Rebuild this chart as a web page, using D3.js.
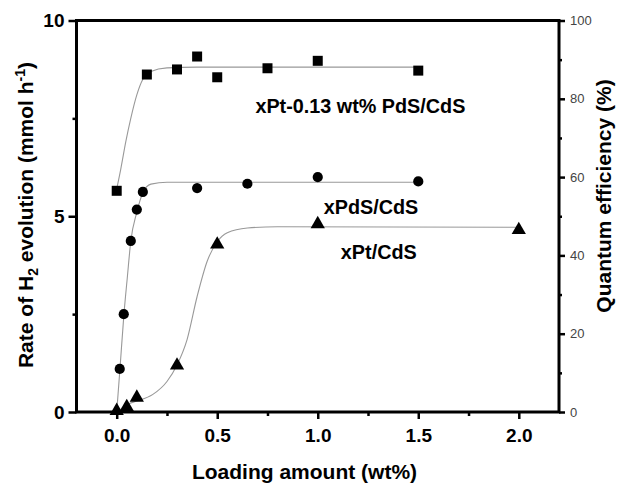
<!DOCTYPE html>
<html>
<head>
<meta charset="utf-8">
<script src="https://cdn.jsdelivr.net/npm/d3@7"></script>
<style>
  body { margin: 0; background: #fff; }
  svg { font-family: "Liberation Sans", Arial, sans-serif; }
</style>
</head>
<body>
<svg width="617" height="483"></svg>
<script>
// measured points (rate of H2 evolution, mmol/h)
var squareX = [0, 0.15, 0.3, 0.4, 0.5, 0.75, 1.0, 1.5];
var squareY = [5.65, 8.62, 8.75, 9.08, 8.55, 8.78, 8.97, 8.72];
var circleX = [0.015, 0.035, 0.07, 0.1, 0.13, 0.4, 0.65, 1.0, 1.5];
var circleY = [1.1, 2.5, 4.37, 5.17, 5.62, 5.72, 5.83, 6.0, 5.89];
var triangleX = [0, 0.05, 0.1, 0.3, 0.5, 1.0, 2.0];
var triangleY = [0.03, 0.13, 0.37, 1.19, 4.28, 4.8, 4.65];

// fitted curves
var squareFitX = [0, 0.02, 0.045, 0.07, 0.1, 0.13, 0.17, 0.25, 0.4, 1.5];
var squareFitY = [5.7, 6.2, 6.9, 7.5, 8.1, 8.5, 8.7, 8.79, 8.81, 8.81];
var circleFitX = [0, 0.016, 0.036, 0.053, 0.07, 0.1, 0.13, 0.17, 0.25, 1.5];
var circleFitY = [0, 1.09, 2.5, 3.45, 4.36, 5.1, 5.6, 5.82, 5.87, 5.87];
var triangleFitX = [0.05, 0.1, 0.18, 0.25, 0.3, 0.35, 0.4, 0.45, 0.5, 0.55, 0.65, 0.8, 2.0];
var triangleFitY = [0.2, 0.28, 0.45, 0.78, 1.2, 1.85, 2.95, 3.85, 4.35, 4.58, 4.7, 4.73, 4.72];

var seriesNames = ["xPt-0.13 wt% PdS/CdS", "xPdS/CdS", "xPt/CdS"];

// ticks
var xTicks = [0, 0.5, 1.0, 1.5, 2.0];
var xMinor = [0.25, 0.75, 1.25, 1.75];
var yTicks = [0, 5, 10];
var yMinor = [2.5, 7.5];
var qeTicks = [0, 20, 40, 60, 80, 100];
var qeMinor = [10, 30, 50, 70, 90];

var svg = d3.select("svg");
// note: "top" is taken by window.top, so plot edges get a prefix
var plotL = 76.5, plotR = 559, plotT = 20.5, plotB = 412;

var x = d3.scaleLinear().domain([-0.2, 2.2]).range([plotL, plotR]);
var y = d3.scaleLinear().domain([0, 10]).range([plotB, plotT]);
var yQE = d3.scaleLinear().domain([0, 100]).range([plotB, plotT]);

function styleAxis(g, size, weight, color) {
  g.select(".domain").remove();
  g.selectAll(".tick line").attr("stroke", "#000").attr("stroke-width", 2.5);
  g.selectAll(".tick text")
    .attr("fill", color)
    .style("font-size", size + "px")
    .style("font-weight", weight)
    .style("font-family", "'Liberation Sans', Arial, sans-serif");
}

// bottom axis
svg.append("g")
  .attr("transform", "translate(0," + plotB + ")")
  .call(d3.axisBottom(x).tickValues(xTicks).tickSize(7).tickPadding(10).tickFormat(d3.format(".1f")))
  .call(styleAxis, 19, "bold", "#000");
svg.append("g")
  .attr("transform", "translate(0," + plotB + ")")
  .call(d3.axisBottom(x).tickValues(xMinor).tickSize(4).tickFormat(""))
  .call(styleAxis, 19, "bold", "#000");

// left axis
svg.append("g")
  .attr("transform", "translate(" + plotL + ",0)")
  .call(d3.axisLeft(y).tickValues(yTicks).tickSize(8).tickPadding(4).tickFormat(d3.format("d")))
  .call(styleAxis, 19, "bold", "#000");
svg.append("g")
  .attr("transform", "translate(" + plotL + ",0)")
  .call(d3.axisLeft(y).tickValues(yMinor).tickSize(4).tickFormat(""))
  .call(styleAxis, 19, "bold", "#000");

// right axis (quantum efficiency)
svg.append("g")
  .attr("transform", "translate(" + plotR + ",0)")
  .call(d3.axisRight(yQE).tickValues(qeTicks).tickSize(6).tickPadding(5).tickFormat(d3.format("d")))
  .call(styleAxis, 13, "normal", "#444");
svg.append("g")
  .attr("transform", "translate(" + plotR + ",0)")
  .call(d3.axisRight(yQE).tickValues(qeMinor).tickSize(3).tickFormat(""))
  .call(styleAxis, 13, "normal", "#444");

// frame
svg.append("rect")
  .attr("x", plotL).attr("y", plotT)
  .attr("width", plotR - plotL).attr("height", plotB - plotT)
  .attr("fill", "none").attr("stroke", "#000").attr("stroke-width", 3);

// fitted lines
var line = d3.line()
  .x(function(d) { return x(d[0]); })
  .y(function(d) { return y(d[1]); })
  .curve(d3.curveMonotoneX);

function zip(a, b) { return a.map(function(v, i) { return [v, b[i]]; }); }

[[squareFitX, squareFitY], [circleFitX, circleFitY], [triangleFitX, triangleFitY]].forEach(function(s) {
  svg.append("path")
    .datum(zip(s[0], s[1]))
    .attr("fill", "none")
    .attr("stroke", "#999")
    .attr("stroke-width", 1.1)
    .attr("d", line);
});

// markers
function drawPoints(xs, ys, type, size) {
  svg.append("g").selectAll("path")
    .data(zip(xs, ys))
    .join("path")
    .attr("transform", function(d) { return "translate(" + x(d[0]) + "," + y(d[1]) + ")"; })
    .attr("d", d3.symbol().type(type).size(size))
    .attr("fill", "#000");
}
drawPoints(squareX, squareY, d3.symbolSquare, 100);
drawPoints(circleX, circleY, d3.symbolCircle, 82);
drawPoints(triangleX, triangleY, d3.symbolTriangle, 88);

// series labels
var labelFont = "bold 19.8px 'Liberation Sans', Arial, sans-serif";
var labelPos = [[0.69, 7.65], [1.03, 5.07], [1.115, 3.9]];
seriesNames.forEach(function(name, i) {
  svg.append("text")
    .attr("x", x(labelPos[i][0]))
    .attr("y", y(labelPos[i][1]))
    .style("font", labelFont)
    .attr("fill", "#000")
    .text(name);
});

// axis titles
var titleFont = "bold 21px 'Liberation Sans', Arial, sans-serif";

svg.append("text")
  .attr("x", 304.5).attr("y", 479)
  .attr("text-anchor", "middle")
  .style("font", titleFont)
  .text("Loading amount (wt%)");

var lt = svg.append("text")
  .attr("transform", "translate(33,215) rotate(-90)")
  .attr("text-anchor", "middle")
  .style("font", titleFont);
lt.append("tspan").text("Rate of H");
lt.append("tspan").attr("dy", 5).style("font-size", "14px").text("2");
lt.append("tspan").attr("dy", -5).text(" evolution (mmol h");
lt.append("tspan").attr("dy", -8).style("font-size", "14px").text("-1");
lt.append("tspan").attr("dy", 8).text(")");

svg.append("text")
  .attr("transform", "translate(611,196) rotate(-90)")
  .attr("text-anchor", "middle")
  .style("font", titleFont)
  .text("Quantum efficiency (%)");
</script>
</body>
</html>
